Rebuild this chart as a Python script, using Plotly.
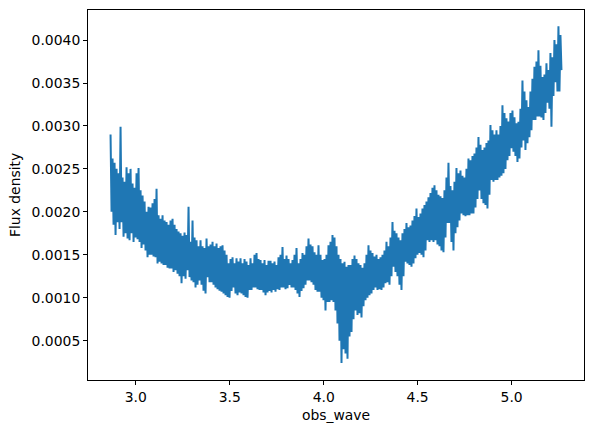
import numpy as np
import plotly.graph_objects as go

# wavelength grid (micron), evenly sampled
wave_start = 2.866
wave_end = 5.265

# flux density, in units of 1e-5
flux_e5 = [
    290, 200, 262, 185, 257, 173, 250, 188, 245, 180,
    299, 188, 240, 171, 235, 175, 252, 169, 245, 167,
    250, 175, 233, 165, 228, 170, 245, 168, 251, 165,
    225, 158, 219, 162, 212, 155, 200, 147, 206, 150,
    205, 150, 210, 148, 215, 147, 227, 140, 196, 142,
    192, 140, 196, 138, 190, 138, 188, 135, 185, 134,
    190, 134, 192, 130, 185, 132, 180, 128, 177, 125,
    175, 117, 172, 125, 176, 122, 173, 132, 206, 124,
    165, 120, 190, 118, 170, 112, 167, 115, 160, 120,
    167, 115, 160, 108, 158, 105, 169, 124, 160, 118,
    162, 118, 165, 115, 160, 112, 163, 110, 158, 108,
    160, 107, 161, 105, 155, 103, 150, 101, 140, 100,
    145, 108, 147, 112, 140, 105, 146, 103, 142, 106,
    146, 105, 140, 103, 145, 101, 142, 100, 138, 109,
    146, 109, 140, 112, 150, 112, 152, 110, 145, 109,
    144, 109, 140, 106, 144, 103, 138, 106, 143, 108,
    143, 106, 140, 109, 142, 107, 138, 110, 147, 109,
    150, 112, 159, 112, 145, 110, 149, 111, 145, 115,
    140, 112, 144, 112, 150, 109, 158, 105, 140, 101,
    145, 108, 152, 111, 150, 115, 160, 120, 169, 120,
    162, 118, 160, 115, 153, 109, 150, 107, 161, 107,
    150, 100, 144, 97, 145, 85, 150, 95, 161, 95,
    165, 97, 173, 95, 170, 85, 160, 70, 150, 50,
    145, 24, 140, 40, 142, 35, 136, 29, 138, 55,
    138, 60, 145, 75, 149, 85, 145, 80, 140, 82,
    138, 77, 135, 90, 140, 97, 150, 100, 161, 103,
    155, 105, 152, 109, 148, 112, 150, 109, 145, 110,
    147, 109, 150, 112, 155, 117, 165, 118, 160, 115,
    170, 125, 188, 136, 178, 130, 175, 125, 170, 115,
    167, 109, 175, 125, 180, 142, 187, 140, 182, 138,
    184, 136, 190, 140, 195, 146, 204, 150, 194, 152,
    198, 150, 204, 147, 208, 155, 212, 167, 217, 165,
    222, 167, 228, 165, 231, 167, 225, 162, 220, 160,
    218, 155, 216, 153, 225, 170, 240, 187, 257, 187,
    230, 165, 225, 155, 235, 175, 251, 182, 245, 190,
    248, 198, 242, 196, 240, 195, 250, 196, 262, 196,
    260, 198, 265, 198, 268, 205, 275, 215, 287, 225,
    278, 215, 272, 210, 275, 208, 280, 204, 283, 220,
    301, 237, 295, 235, 290, 237, 295, 237, 290, 240,
    300, 242, 324, 245, 315, 250, 309, 260, 305, 265,
    315, 274, 318, 270, 310, 265, 303, 258, 305, 262,
    320, 275, 353, 283, 340, 272, 330, 280, 322, 287,
    340, 295, 355, 307, 369, 307, 375, 311, 388, 311,
    370, 310, 357, 307, 360, 315, 373, 327, 365, 320,
    385, 299, 380, 335, 400, 351, 395, 340, 416, 340, 406, 365,
]

flux = np.array(flux_e5) * 1e-5
wave = np.linspace(wave_start, wave_end, len(flux))

font = dict(family="DejaVu Sans", size=13.9, color="#000")

fig = go.Figure()
fig.add_trace(
    go.Scatter(
        x=wave,
        y=flux,
        mode="lines",
        line=dict(color="#1f77b4", width=2),
        showlegend=False,
    )
)

axis_common = dict(
    showgrid=False,
    zeroline=False,
    showline=True,
    linecolor="#000",
    linewidth=1,
    mirror=True,
    ticks="outside",
    ticklen=4,
    tickwidth=1,
    tickcolor="#000",
    tickfont=font,
)

fig.update_layout(
    width=594,
    height=433,
    margin=dict(l=88, r=10, t=10, b=53),
    plot_bgcolor="white",
    paper_bgcolor="white",
    font=font,
    xaxis=dict(
        range=[2.746, 5.385],
        tick0=3.0,
        dtick=0.5,
        tickformat=".1f",
        **axis_common,
    ),
    yaxis=dict(
        range=[0.000042, 0.00435],
        tick0=0.0005,
        dtick=0.0005,
        tickformat=".4f",
        **axis_common,
    ),
    annotations=[
        dict(
            text="obs_wave",
            xref="paper", yref="paper",
            x=0.5, y=-35 / 370,
            xanchor="center", yanchor="middle",
            showarrow=False, font=font,
        ),
        dict(
            text="Flux density",
            xref="paper", yref="paper",
            x=-73 / 496, y=0.5,
            xanchor="center", yanchor="middle",
            textangle=-90,
            showarrow=False, font=font,
        ),
    ],
)

# drop the browser's default page margin so the figure sits at (0, 0)
fig.write_html(
    "out.html",
    config={"displayModeBar": False},
    post_script="document.body.style.margin = '0';",
)
